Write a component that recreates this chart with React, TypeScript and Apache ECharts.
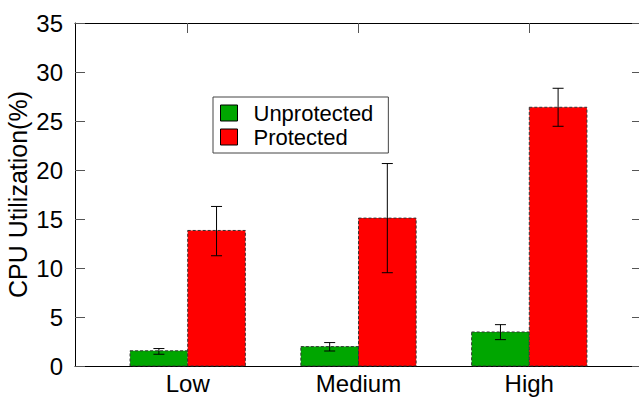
import React, { useEffect, useRef } from "react";
import * as echarts from "echarts";

const categories = ["Low", "Medium", "High"];
const unprotectedValues = [1.55, 1.98, 3.47];
const unprotectedLow = [1.2, 1.53, 2.69];
const unprotectedHigh = [1.78, 2.39, 4.22];
const protectedValues = [13.83, 15.09, 26.4];
const protectedLow = [11.25, 9.52, 24.46];
const protectedHigh = [16.28, 20.66, 28.34];
const yTicks = [0, 5, 10, 15, 20, 25, 30, 35];

const GREEN = "#00a600";
const RED = "#ff0000";
const BAR_W = 0.3375;
const FONT = "Liberation Sans, Arial, Helvetica, sans-serif";

function makeRender(offset: number, color: string) {
  return (params: any, api: any) => {
    const x = api.value(0);
    const v = api.value(1);
    const lo = api.value(2);
    const hi = api.value(3);
    const x0 = x + offset;
    const x1 = x0 + BAR_W;
    const p0 = api.coord([x0, v]);
    const p1 = api.coord([x1, 0]);
    const xc = api.coord([x0 + BAR_W / 2, 0])[0];
    const yl = api.coord([x, lo])[1];
    const yh = api.coord([x, hi])[1];
    const cap = 5.5;
    return {
      type: "group",
      children: [
        {
          type: "rect",
          shape: { x: p0[0], y: p0[1], width: p1[0] - p0[0], height: p1[1] - p0[1] },
          style: { fill: color, stroke: "#333", lineWidth: 1, lineDash: [3, 2] },
        },
        { type: "line", shape: { x1: xc, y1: yl, x2: xc, y2: yh }, style: { stroke: "#000", lineWidth: 1 } },
        { type: "line", shape: { x1: xc - cap, y1: yl, x2: xc + cap, y2: yl }, style: { stroke: "#000", lineWidth: 1 } },
        { type: "line", shape: { x1: xc - cap, y1: yh, x2: xc + cap, y2: yh }, style: { stroke: "#000", lineWidth: 1 } },
      ],
    };
  };
}

export default function App() {
  const ref = useRef<HTMLDivElement>(null);
  useEffect(() => {
    if (!ref.current) return;
    const chart = echarts.init(ref.current, null, { renderer: "svg" });
    const catIdx = categories.map((_, i) => i);
    const unData = catIdx.map((i) => [i, unprotectedValues[i], unprotectedLow[i], unprotectedHigh[i]]);
    const prData = catIdx.map((i) => [i, protectedValues[i], protectedLow[i], protectedHigh[i]]);
    chart.setOption({
      animation: false,
      backgroundColor: "#fff",
      textStyle: { fontFamily: FONT },
      grid: { left: 75, right: -3, top: 23, bottom: 32, containLabel: false, outerBoundsMode: "none" },
      legend: {
        orient: "vertical",
        left: 213,
        top: 97,
        padding: [5, 15, 5, 7],
        itemGap: 2,
        itemWidth: 17,
        itemHeight: 16,
        borderColor: "#444",
        borderWidth: 1,
        textStyle: { fontSize: 22, lineHeight: 20, color: "#000", fontFamily: FONT, padding: [0, 0, 0, 11] },
        data: [
          { name: "Unprotected", icon: "rect", itemStyle: { color: GREEN, borderColor: "#000", borderWidth: 1 } },
          { name: "Protected", icon: "rect", itemStyle: { color: RED, borderColor: "#000", borderWidth: 1 } },
        ],
      },
      xAxis: [
        {
          type: "value",
          min: -0.66,
          max: 2.66,
          position: "bottom",
          splitLine: { show: false },
          axisLine: { show: true, onZero: false, lineStyle: { color: "#000", width: 1 } },
          axisTick: { show: false },
          axisLabel: {
            customValues: catIdx,
            formatter: (v: number) => categories[Math.round(v)] ?? "",
            fontSize: 24,
            color: "#000",
            margin: 5,
            fontFamily: FONT,
          },
        },
        {
          type: "value",
          min: -0.66,
          max: 2.66,
          position: "top",
          splitLine: { show: false },
          axisLine: { show: true, onZero: false, lineStyle: { color: "#000", width: 1 } },
          axisTick: { show: true, inside: true, length: 10, customValues: catIdx, lineStyle: { color: "#555" } },
          axisLabel: { show: false },
        },
      ],
      yAxis: [
        {
          type: "value",
          min: 0,
          max: 35,
          interval: 5,
          position: "left",
          name: "CPU Utilization(%)",
          nameLocation: "middle",
          nameGap: 45,
          nameMoveOverlap: false,
          nameTextStyle: { fontSize: 25, color: "#000", fontFamily: FONT },
          splitLine: { show: false },
          axisLine: { show: true, onZero: false, lineStyle: { color: "#000", width: 1 } },
          axisTick: { show: true, inside: true, length: 10, lineStyle: { color: "#555" } },
          axisLabel: {
            fontSize: 24,
            color: "#000",
            margin: 12,
            fontFamily: FONT,
            formatter: (v: number) => (yTicks.includes(v) ? String(v) : ""),
          },
        },
        {
          type: "value",
          min: 0,
          max: 35,
          interval: 5,
          position: "right",
          splitLine: { show: false },
          axisLine: { show: false, onZero: false },
          axisTick: { show: true, inside: true, length: 10, lineStyle: { color: "#555" } },
          axisLabel: { show: false },
        },
      ],
      series: [
        {
          name: "Unprotected",
          type: "custom",
          xAxisIndex: 0,
          yAxisIndex: 0,
          itemStyle: { color: GREEN },
          encode: { x: 0, y: [1, 2, 3] },
          renderItem: makeRender(-BAR_W, GREEN),
          data: unData,
        },
        {
          name: "Protected",
          type: "custom",
          xAxisIndex: 0,
          yAxisIndex: 0,
          itemStyle: { color: RED },
          encode: { x: 0, y: [1, 2, 3] },
          renderItem: makeRender(0, RED),
          data: prData,
        },
      ],
    });
    return () => chart.dispose();
  }, []);
  return <div ref={ref} style={{ position: "absolute", left: 0, top: 0, width: 639, height: 398 }} />;
}
